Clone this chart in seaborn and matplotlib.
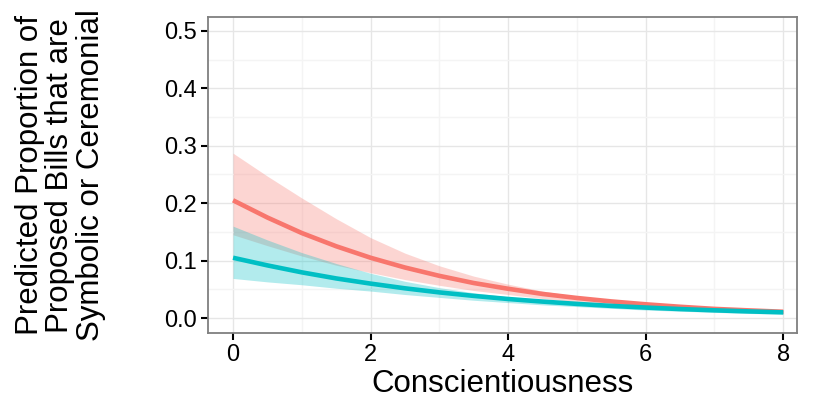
import numpy as np
import pandas as pd
import matplotlib
matplotlib.use("Agg")
import matplotlib.pyplot as plt
import seaborn as sns
from matplotlib.ticker import MultipleLocator

# ---- data ----
conscientiousness = [0.0, 0.5, 1.0, 1.5, 2.0, 2.5, 3.0, 3.5, 4.0,
                     4.5, 5.0, 5.5, 6.0, 6.5, 7.0, 7.5, 8.0]
group_names = ["Group 1", "Group 2"]
pred_g1 = [0.205, 0.175, 0.148, 0.125, 0.105, 0.088, 0.0735, 0.061, 0.051,
           0.042, 0.035, 0.029, 0.024, 0.0197, 0.016, 0.0134, 0.011]
lower_g1 = [0.145, 0.126, 0.108, 0.092, 0.079, 0.067, 0.057, 0.048, 0.041,
            0.034, 0.028, 0.023, 0.019, 0.015, 0.012, 0.010, 0.008]
upper_g1 = [0.287, 0.247, 0.209, 0.173, 0.140, 0.113, 0.091, 0.073, 0.059,
            0.047, 0.038, 0.031, 0.026, 0.021, 0.018, 0.016, 0.014]
pred_g2 = [0.105, 0.0917, 0.0796, 0.069, 0.060, 0.0518, 0.0447, 0.0386, 0.0332,
           0.0287, 0.0247, 0.0212, 0.0183, 0.0157, 0.0135, 0.0116, 0.010]
lower_g2 = [0.069, 0.063, 0.058, 0.052, 0.047, 0.041, 0.036, 0.031, 0.027,
            0.023, 0.020, 0.017, 0.014, 0.012, 0.010, 0.008, 0.007]
upper_g2 = [0.160, 0.136, 0.114, 0.095, 0.078, 0.064, 0.053, 0.044, 0.037,
            0.032, 0.028, 0.024, 0.021, 0.019, 0.017, 0.015, 0.014]
x_ticks = [0, 2, 4, 6, 8]
y_ticks = [0.0, 0.1, 0.2, 0.3, 0.4, 0.5]

colors = ["#F8766D", "#00BFC4"]

df = pd.DataFrame({
    "Conscientiousness": conscientiousness * 2,
    "pred": pred_g1 + pred_g2,
    "lower": lower_g1 + lower_g2,
    "upper": upper_g1 + upper_g2,
    "group": [group_names[0]] * len(conscientiousness) + [group_names[1]] * len(conscientiousness),
})

sns.set_theme(style="white")
plt.rcParams["font.family"] = ["Liberation Sans", "DejaVu Sans"]

fig = plt.figure(figsize=(8.17, 4.18), dpi=100)
ax = fig.add_axes([0.2546, 0.2033, 0.7209, 0.756])

# ribbons
for g, c in zip(group_names, colors):
    sub = df[df["group"] == g]
    ax.fill_between(sub["Conscientiousness"], sub["lower"], sub["upper"],
                    color=c, alpha=0.3, linewidth=0, zorder=2)

# lines
sns.lineplot(data=df, x="Conscientiousness", y="pred", hue="group",
             palette=colors, linewidth=3.3, legend=False, ax=ax, zorder=3,
             solid_capstyle="butt")

ax.set_xlim(-0.364, 8.2)
ax.set_ylim(-0.026, 0.524)
ax.set_xticks(x_ticks)
ax.set_yticks(y_ticks)
ax.set_xticklabels([str(t) for t in x_ticks])
ax.set_yticklabels([f"{t:.1f}" for t in y_ticks])
ax.xaxis.set_minor_locator(MultipleLocator(1))
ax.yaxis.set_minor_locator(MultipleLocator(0.05))

ax.grid(True, which="major", color="#e6e6e6", linewidth=1.0, zorder=0)
ax.grid(True, which="minor", color="#f4f4f4", linewidth=1.0, zorder=0)
ax.set_axisbelow(True)

for s in ax.spines.values():
    s.set_color("#7f7f7f")
    s.set_linewidth(1.3)
    s.set_visible(True)

ax.tick_params(axis="both", which="major", length=5, width=1.5, color="black",
               labelsize=17, labelcolor="black", pad=3, bottom=True, left=True)
ax.tick_params(axis="both", which="minor", length=0)

ax.set_xlabel("Conscientiousness", fontsize=22.5, color="black", labelpad=2)
ax.set_ylabel("")
fig.text(0.074, 0.581,
         "Predicted Proportion of\nProposed Bills that are\nSymbolic or Ceremonial",
         rotation=90, ha="center", va="center", multialignment="center",
         fontsize=22.5, color="black", linespacing=1.03)

fig.savefig("out.png", dpi=100)
